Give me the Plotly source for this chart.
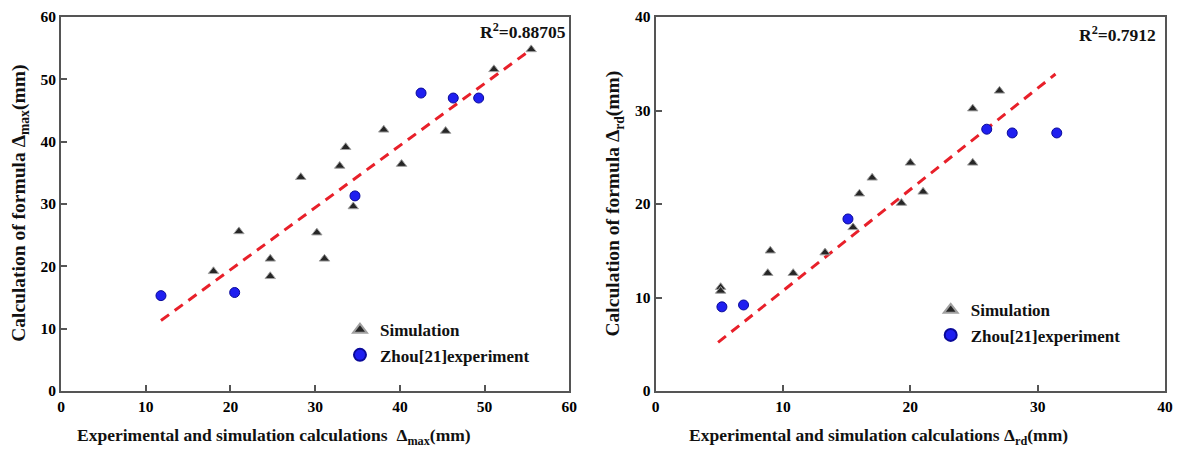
import plotly.graph_objects as go

# ---- Left panel: Delta_max ----
sim_max_x = [55.5, 51.1, 38.1, 45.4, 33.6, 32.9, 40.2, 28.3, 34.5, 30.2, 21.0, 31.1, 24.7, 24.7, 18.0]
sim_max_y = [54.8, 51.6, 41.9, 41.7, 39.1, 36.1, 36.4, 34.3, 29.6, 25.4, 25.6, 21.2, 21.2, 18.4, 19.2]
exp_max_x = [42.5, 46.3, 49.3, 34.7, 11.8, 20.5]
exp_max_y = [47.8, 47.0, 47.0, 31.3, 15.3, 15.8]
fit_max_x = [11.8, 55.5]
fit_max_y = [11.3, 54.8]
r2_max = "R<sup>2</sup>=0.88705"
xtitle_max = "Experimental and simulation calculations  Δ<sub>max</sub>(mm)"
ytitle_max = "Calculation of formula Δ<sub>max</sub>(mm)"

# ---- Right panel: Delta_rd ----
sim_rd_x = [27.0, 24.9, 20.0, 24.9, 21.0, 19.3, 17.0, 16.0, 15.5, 13.3, 9.0, 8.8, 10.8, 5.1, 5.1]
sim_rd_y = [32.1, 30.2, 24.4, 24.4, 21.3, 20.1, 22.8, 21.1, 17.5, 14.8, 15.0, 12.6, 12.6, 11.1, 10.7]
exp_rd_x = [26.0, 28.0, 31.5, 15.1, 5.2, 6.9]
exp_rd_y = [28.0, 27.6, 27.6, 18.4, 9.0, 9.2]
fit_rd_x = [4.9, 31.4]
fit_rd_y = [5.2, 33.9]
r2_rd = "R<sup>2</sup>=0.7912"
xtitle_rd = "Experimental and simulation calculations Δ<sub>rd</sub>(mm)"
ytitle_rd = "Calculation of formula Δ<sub>rd</sub>(mm)"

FONT = "Liberation Serif"
TXT = "#111111"
AX = "#555555"

W, H = 1181, 454
ML, MR, MT, MB = 61, 8, 16, 63
PW = W - ML - MR
PH = H - MT - MB

def px_x(p):
    return (p - ML) / PW

def px_y(p):
    return (H - MB - p) / PH

tri = dict(symbol="triangle-up", size=9, color="#262626", line=dict(color="#a0a0a0", width=1))
dot = dict(symbol="circle", size=10, color="#1f1ff0", line=dict(color="#0a0a9a", width=1))
dash = dict(color="#e8202a", width=3, dash="10px,7px")

fig = go.Figure()

fig.add_trace(go.Scatter(x=fit_max_x, y=fit_max_y, mode="lines", line=dash, showlegend=False,
                         xaxis="x", yaxis="y"))
fig.add_trace(go.Scatter(x=sim_max_x, y=sim_max_y, mode="markers", marker=tri, name="Simulation",
                         xaxis="x", yaxis="y", legend="legend"))
fig.add_trace(go.Scatter(x=exp_max_x, y=exp_max_y, mode="markers", marker=dot, name="Zhou[21]experiment",
                         xaxis="x", yaxis="y", legend="legend"))

fig.add_trace(go.Scatter(x=fit_rd_x, y=fit_rd_y, mode="lines", line=dash, showlegend=False,
                         xaxis="x2", yaxis="y2"))
fig.add_trace(go.Scatter(x=sim_rd_x, y=sim_rd_y, mode="markers", marker=tri, name="Simulation",
                         xaxis="x2", yaxis="y2", legend="legend2"))
fig.add_trace(go.Scatter(x=exp_rd_x, y=exp_rd_y, mode="markers", marker=dot, name="Zhou[21]experiment",
                         xaxis="x2", yaxis="y2", legend="legend2"))

tickfont = dict(family=FONT, size=15.5, color="#000000", weight="bold")
xtitlefont = dict(family=FONT, size=17.5, color=TXT, weight="bold")
ytitlefont = dict(family=FONT, size=19.5, color=TXT, weight="bold")
common = dict(showline=True, linecolor=AX, linewidth=2, mirror=True, ticks="inside", ticklen=6,
              tickwidth=1.5, tickcolor=AX, showgrid=False, zeroline=False, tickfont=tickfont)

dom_l = [0, px_x(573)]
dom_r = [px_x(660), 1]

fig.update_layout(
    width=W, height=H,
    margin=dict(l=ML, r=MR, t=MT, b=MB),
    paper_bgcolor="white", plot_bgcolor="white",
    font=dict(family=FONT, color=TXT),
    xaxis=dict(domain=dom_l, range=[0, 60], dtick=10, anchor="y", **common),
    yaxis=dict(domain=[0, 1], range=[0, 60], dtick=10, anchor="x", **common),
    xaxis2=dict(domain=dom_r, range=[0, 40], dtick=10, anchor="y2", **common),
    yaxis2=dict(domain=[0, 1], range=[0, 40], dtick=10, anchor="x2", **common),
    legend=dict(x=px_x(342), y=px_y(312), xanchor="left", yanchor="top",
                bgcolor="rgba(0,0,0,0)", font=dict(family=FONT, size=17, color=TXT, weight="bold"),
                tracegroupgap=0, itemsizing="constant"),
    legend2=dict(x=px_x(937), y=px_y(292), xanchor="left", yanchor="top",
                 bgcolor="rgba(0,0,0,0)", font=dict(family=FONT, size=17, color=TXT, weight="bold"),
                 tracegroupgap=0, itemsizing="constant"),
    showlegend=True,
)

def ann(text, xp, yp, font, angle=0, xanchor="center"):
    fig.add_annotation(text=text, xref="paper", yref="paper", x=px_x(xp), y=px_y(yp),
                       xanchor=xanchor, yanchor="middle", showarrow=False, textangle=angle,
                       font=font)

# axis titles
ann(xtitle_max, 276, 437, xtitlefont)
ann(xtitle_rd, 884, 437, xtitlefont)
ann(ytitle_max, 19, 203, ytitlefont, angle=-90)
ann(ytitle_rd, 618, 203, ytitlefont, angle=-90)

# R^2 labels
r2font = dict(family=FONT, size=17.5, color=TXT, weight="bold")
ann(r2_max, 572, 30, r2font, xanchor="right")
ann(r2_rd, 1166, 33, r2font, xanchor="right")

fig.write_html("out.html")
